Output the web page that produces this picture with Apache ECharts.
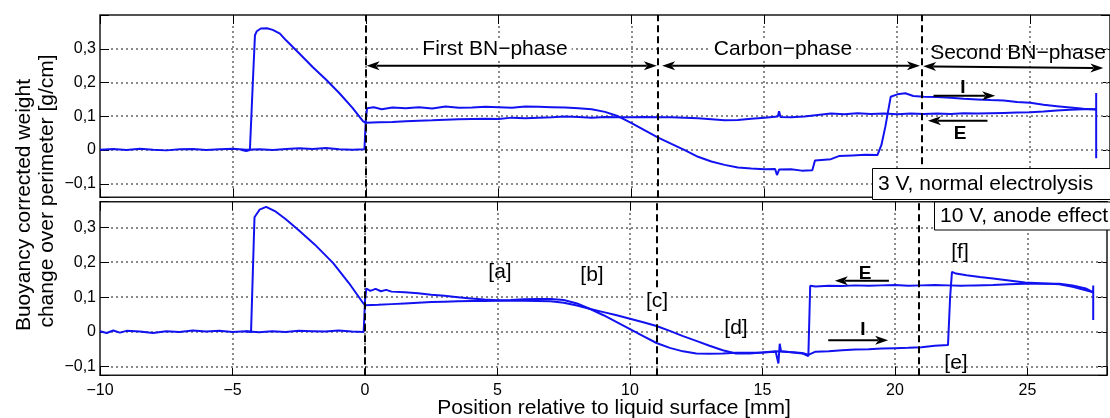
<!DOCTYPE html>
<html><head><meta charset="utf-8">
<script src="https://cdn.jsdelivr.net/npm/echarts@6/dist/echarts.min.js"></script>
<style>html,body{margin:0;padding:0;background:#fff}#c{width:1110px;height:418px}</style>
</head><body><div id="c"></div>
<script>
// ---------- data (x = position [mm], y = weight change [g/cm]) ----------
const xRange = [-10, 28];
const topYRange = [-0.14, 0.4];
const botYRange = [-0.125, 0.375];
const xGridTicks = [-5, 0, 5, 10, 15, 20, 25];
const yGridTicks = [-0.1, 0, 0.1, 0.2, 0.3];
const phaseBoundaries = [0, 11, 20.9];

// 3 V, normal electrolysis: immersion (I) path
const topImmersion = [
[-10,0.001],[-9.5,0.003],[-9,0.000],[-8.5,0.004],[-8,0.001],[-7.5,-0.001],[-7,0.002],[-6.5,0.003],[-6,0.000],[-5.5,0.002],[-5,0.004],[-4.5,0.001],[-4,0.002],[-3.5,0.000],[-3,0.003],[-2.5,0.005],[-2,0.003],[-1.5,0.006],[-1,0.002],[-0.5,0.001],[-0.05,0.002],
[0,0.090],[0.05,0.124],[0.3,0.127],[0.6,0.121],[1,0.126],[1.5,0.124],[2,0.127],[2.5,0.123],[3,0.129],[3.5,0.125],[4,0.126],[4.5,0.128],[5,0.127],[5.5,0.125],[6,0.129],[6.5,0.128],[7,0.127],[7.5,0.126],[8,0.124],[8.5,0.121],[9,0.113],[9.5,0.100],[10,0.080],[10.5,0.058],[11,0.037],[11.5,0.018],[12,0.000],[12.5,-0.020],[13,-0.034],[13.5,-0.044],[14,-0.052],[14.5,-0.055],[15,-0.057],[15.4,-0.056],[15.47,-0.074],[15.55,-0.058],[16,-0.057],[16.4,-0.061],[16.8,-0.060],[16.9,-0.031],[17.5,-0.027],[17.8,-0.018],[18.3,-0.016],[18.8,-0.014],[19.25,-0.015],[19.4,0.015],[19.55,0.070],[19.75,0.158],[20,0.165],[20.3,0.168],[20.6,0.160],[21,0.158],[21.5,0.157],[22,0.155],[22.5,0.152],[23,0.150],[23.5,0.148],[24,0.147],[24.5,0.142],[25,0.140],[25.5,0.134],[26,0.130],[26.5,0.126],[27,0.122],[27.48,0.120]
];
// 3 V, normal electrolysis: extraction (E) path
const topExtraction = [
[27.48,0.169],[27.48,-0.024],[27.48,0.121],[27,0.121],[26.5,0.119],[26,0.117],[25.5,0.114],[25,0.112],[24.5,0.111],[24,0.110],[23.5,0.109],[23,0.108],[22.5,0.109],[22,0.107],[21.5,0.108],[21,0.107],[20.5,0.108],[20,0.106],[19.5,0.108],[19,0.107],[18.5,0.109],[18,0.106],[17.5,0.108],[17,0.104],[16.5,0.099],[16,0.097],[15.6,0.098],[15.55,0.115],[15.5,0.099],[15,0.096],[14.5,0.093],[14,0.089],[13.5,0.088],[13,0.091],[12.5,0.094],[12,0.096],[11.5,0.097],[11,0.097],[10.5,0.098],[10,0.097],[9.5,0.097],[9,0.098],[8.5,0.096],[8,0.098],[7.5,0.099],[7,0.097],[6.5,0.096],[6,0.094],[5.5,0.096],[5,0.092],[4.5,0.093],[4,0.092],[3.5,0.091],[3,0.090],[2.5,0.088],[2,0.087],[1.5,0.085],[1,0.083],[0.5,0.082],[0,0.081],
[-0.1,0.085],[-0.5,0.125],[-1,0.169],[-1.5,0.209],[-2,0.246],[-2.5,0.286],[-3,0.325],[-3.23,0.345],[-3.5,0.356],[-3.72,0.361],[-3.95,0.360],[-4.1,0.352],[-4.17,0.340],[-4.25,0.200],[-4.36,0.000],[-4.5,-0.003],[-4.7,0.001]
];
// 10 V, anode effect: immersion (I) path
const botImmersion = [
[-10,0.002],[-9.75,-0.003],[-9.5,0.004],[-9.25,-0.002],[-9,0.003],[-8.5,0.001],[-8,-0.003],[-7.5,0.002],[-7,0.000],[-6.5,0.004],[-6,0.001],[-5.5,0.003],[-5,0.000],[-4.5,0.002],[-4,-0.001],[-3.5,0.002],[-3,0.000],[-2.5,0.003],[-2,0.002],[-1.5,0.001],[-1,0.004],[-0.5,0.001],[-0.05,0.000],
[0,0.090],[0.05,0.125],[0.2,0.118],[0.4,0.124],[0.6,0.117],[0.8,0.121],[1,0.116],[1.5,0.114],[2,0.111],[2.5,0.107],[3,0.104],[3.5,0.100],[4,0.096],[4.5,0.093],[5,0.091],[5.5,0.092],[6,0.094],[6.5,0.095],[7,0.095],[7.5,0.092],[8,0.082],[8.5,0.066],[9,0.048],[9.5,0.028],[10,0.008],[10.5,-0.012],[11,-0.032],[11.5,-0.046],[12,-0.056],[12.5,-0.062],[13,-0.063],[13.5,-0.062],[14,-0.060],[14.5,-0.060],[15,-0.059],[15.5,-0.057],[15.6,-0.091],[15.65,-0.034],[15.7,-0.056],[16,-0.058],[16.5,-0.061],[16.73,-0.066],[17,-0.057],[17.5,-0.056],[18,-0.053],[18.5,-0.051],[19,-0.050],[19.5,-0.048],[20,-0.047],[20.5,-0.046],[21,-0.044],[21.5,-0.040],[22,-0.038],[22.08,0.100],[22.15,0.173],[22.3,0.168],[22.7,0.163],[23.2,0.158],[23.7,0.154],[24.3,0.148],[24.9,0.142],[25.5,0.140],[26.2,0.137],[26.7,0.130],[27.2,0.120],[27.48,0.114]
];
// 10 V, anode effect: extraction (E) path
const botExtraction = [
[27.48,0.134],[27.48,0.034],[27.48,0.114],[27.2,0.125],[26.7,0.134],[26.2,0.139],[25.5,0.139],[24.9,0.139],[24.3,0.137],[23.7,0.135],[23,0.134],[22.5,0.133],[22,0.134],[21.5,0.135],[21,0.134],[20.5,0.133],[20,0.135],[19.5,0.134],[19,0.133],[18.5,0.134],[18,0.132],[17.5,0.133],[17,0.131],[16.8,0.133],[16.73,-0.070],[16.5,-0.062],[16,-0.058],[15.5,-0.056],[15,-0.059],[14.5,-0.062],[14,-0.062],[13.5,-0.053],[13,-0.040],[12.5,-0.026],[12,-0.012],[11.5,0.003],[11,0.017],[10.5,0.028],[10,0.038],[9.5,0.048],[9,0.057],[8.5,0.066],[8,0.076],[7.5,0.084],[7,0.088],[6.5,0.089],[6,0.090],[5.5,0.090],[5,0.090],[4.5,0.089],[4,0.089],[3.5,0.088],[3,0.087],[2.5,0.086],[2,0.084],[1.5,0.082],[1,0.080],[0.5,0.078],[0,0.077],
[-0.1,0.086],[-0.6,0.140],[-1.2,0.198],[-1.9,0.252],[-2.5,0.293],[-3,0.325],[-3.4,0.348],[-3.73,0.360],[-3.98,0.352],[-4.17,0.330],[-4.3,0.000],[-4.5,0.002]
];

// annotation arrows (data coordinates): panel index, from, to, double-headed?
const arrowSpecs = [
  {panel:0, from:[0.03,0.25], to:[10.95,0.25], both:true},
  {panel:0, from:[11.15,0.25], to:[20.85,0.25], both:true},
  {panel:0, from:[20.97,0.248], to:[27.75,0.243], both:true},
  {panel:0, from:[21.36,0.161], to:[23.68,0.161], both:false},
  {panel:0, from:[23.39,0.087], to:[21.15,0.087], both:false},
  {panel:1, from:[19.77,0.147], to:[17.73,0.147], both:false},
  {panel:1, from:[17.48,-0.024], to:[19.74,-0.024], both:false}
];

// ---------- chart ----------
const FONT = '"Liberation Sans", Arial, Helvetica, sans-serif';
const chart = echarts.init(document.getElementById('c'), null, {renderer:'canvas'});

function fmtX(v){ if (v > 27) return ''; return String(v).replace('-', '\u2212'); }
function fmtY(v, hiLimit){
  const r = Math.round(v*10);
  if (Math.abs(v*10 - r) > 1e-6 || v > hiLimit) return '';
  if (r === 0) return '0';
  return (r < 0 ? '\u2212' : '') + '0,' + Math.abs(r);
}
function xAx(gridIndex, position, labels){
  return {type:'value', gridIndex, position, min:xRange[0], max:xRange[1], interval:5,
    axisLine:{show:false, onZero:false},
    axisTick:{show:true, inside:true, length:9, lineStyle:{color:'#000', width:1}},
    axisLabel:{show:labels, formatter:fmtX, fontSize:16, color:'#000', fontFamily:FONT, margin:7},
    splitLine:{show:false}};
}
function yAx(gridIndex, position, range, labels){
  return {type:'value', gridIndex, position, min:range[0], max:range[1], splitNumber:5,
    axisLine:{show:false, onZero:false},
    axisTick:{show:true, inside:true, length:9, lineStyle:{color:'#000', width:1}},
    axisLabel:{show:labels, formatter:v=>fmtY(v, 0.35), fontSize:16, color:'#000', fontFamily:FONT, margin:4},
    splitLine:{show:false}};
}
const lineStyle = {color:'#1212f0', width:2};
const vLines = {silent:true, symbol:['none','none'], label:{show:false},
  lineStyle:{type:[7,4], color:'#000', width:2}, emphasis:{disabled:true},
  data: phaseBoundaries.map(v=>({xAxis:v}))};

const option = {
  animation:false,
  grid:[
    {left:100, top:15, width:1012, height:182.3, show:true, backgroundColor:'transparent', borderColor:'#1a1a1a', borderWidth:1.5},
    {left:100, top:201.7, width:1012, height:173.6, show:true, backgroundColor:'transparent', borderColor:'#1a1a1a', borderWidth:1.5}
  ],
  xAxis:[ xAx(0,'bottom',false), xAx(0,'top',false), xAx(1,'bottom',true), xAx(1,'top',false) ],
  yAxis:[ yAx(0,'left',topYRange,true), yAx(0,'right',topYRange,false), yAx(1,'left',botYRange,true), yAx(1,'right',botYRange,false) ],
  series:[
    {type:'line', name:'3V E', xAxisIndex:0, yAxisIndex:0, data:topExtraction, showSymbol:false, lineStyle, z:3},
    {type:'line', name:'3V I', xAxisIndex:0, yAxisIndex:0, data:topImmersion, showSymbol:false, lineStyle, z:3, markLine:vLines},
    {type:'line', name:'10V E', xAxisIndex:2, yAxisIndex:2, data:botExtraction, showSymbol:false, lineStyle, z:3},
    {type:'line', name:'10V I', xAxisIndex:2, yAxisIndex:2, data:botImmersion, showSymbol:false, lineStyle, z:3, markLine:vLines}
  ]
};
chart.setOption(option);

// ---------- annotations ----------
const g = [];
// dotted grid lines drawn as small dots, positioned through the axes' scales
[[0, topYRange],[2, botYRange]].forEach(([si, yr])=>{
  const pTL = chart.convertToPixel({seriesIndex:si}, [xRange[0], yr[1]]);
  const pBR = chart.convertToPixel({seriesIndex:si}, [xRange[1], yr[0]]);
  const dot = (x, y)=>g.push({type:'rect', z:2, silent:true, shape:{x:x-1, y:y-1, width:2, height:2}, style:{fill:'#8a8a8a'}});
  xGridTicks.forEach(v=>{
    const px = Math.round(chart.convertToPixel({seriesIndex:si}, [v, 0])[0]);
    for (let y = Math.ceil(pTL[1]) + 12; y < pBR[1] - 10; y += 5) dot(px, y);
  });
  yGridTicks.forEach(v=>{
    const py = Math.round(chart.convertToPixel({seriesIndex:si}, [0, v])[1]);
    for (let x = Math.ceil(pTL[0]) + 12; x < Math.min(pBR[0], 1110); x += 5) dot(x, py);
  });
});
function txt(x, y, text, size, extra){
  g.push(Object.assign({type:'text', x, y, z:60,
    style:Object.assign({text, fontSize:size, fontFamily:FONT, fill:'#000', align:'center', verticalAlign:'middle'}, extra||{})}));
}
function head(tip, dir){
  const L = 13, W = 4.5, N = 9.5;
  const nx = -dir[1], ny = dir[0];
  const bx = tip[0]-dir[0]*L, by = tip[1]-dir[1]*L;
  return {type:'polygon', z:55, shape:{points:[[tip[0],tip[1]],[bx+nx*W,by+ny*W],[tip[0]-dir[0]*N,tip[1]-dir[1]*N],[bx-nx*W,by-ny*W]]}, style:{fill:'#000'}};
}
arrowSpecs.forEach(a=>{
  const si = a.panel === 0 ? 0 : 2;
  const p0 = chart.convertToPixel({seriesIndex:si}, a.from);
  const p1 = chart.convertToPixel({seriesIndex:si}, a.to);
  const dx = p1[0]-p0[0], dy = p1[1]-p0[1], len = Math.hypot(dx,dy);
  const u = [dx/len, dy/len];
  const s = a.both ? [p0[0]+u[0]*10, p0[1]+u[1]*10] : p0;
  const e = [p1[0]-u[0]*10, p1[1]-u[1]*10];
  g.push({type:'line', z:55, shape:{x1:s[0], y1:s[1], x2:e[0], y2:e[1]}, style:{stroke:'#000', lineWidth:2}});
  g.push(head(p1, u));
  if (a.both) g.push(head(p0, [-u[0], -u[1]]));
});

// phase labels
txt(495, 49, 'First BN\u2212phase', 21, {backgroundColor:'#fff', padding:[0,4]});
txt(783, 49, 'Carbon\u2212phase', 21, {backgroundColor:'#fff', padding:[0,4]});
txt(1018, 53, 'Second BN\u2212phase', 21);
// I / E labels
txt(963, 88, 'I', 19, {fontWeight:'bold'});
txt(960, 134, 'E', 19, {fontWeight:'bold'});
txt(865, 274, 'E', 19, {fontWeight:'bold'});
txt(863, 330, 'I', 19, {fontWeight:'bold'});
// bracket labels
txt(500, 272, '[a]', 21);
txt(592, 275, '[b]', 21);
txt(657, 301, '[c]', 21, {backgroundColor:'#fff', padding:[1,1]});
txt(736, 328, '[d]', 21);
txt(956, 363, '[e]', 21);
txt(960, 252, '[f]', 21);
// condition boxes
g.push({type:'rect', z:70, shape:{x:872.5, y:168.5, width:260, height:31}, style:{fill:'#fff', stroke:'#000', lineWidth:1}});
txt(878, 184.5, '3 V, normal electrolysis', 21, {align:'left'});
g[g.length-1].z = 75;
g.push({type:'rect', z:70, shape:{x:934.5, y:202, width:200, height:28}, style:{fill:'#fff', stroke:'#000', lineWidth:1}});
txt(940, 216.5, '10 V, anode effect', 21, {align:'left'});
g[g.length-1].z = 75;
// axis titles
txt(614, 408.5, 'Position relative to liquid surface [mm]', 21);
g.push({type:'text', x:24.5, y:205, rotation:Math.PI/2, z:60,
  style:{text:'Buoyancy corrected weight', fontSize:21, fontFamily:FONT, fill:'#000', align:'center', verticalAlign:'middle'}});
g.push({type:'text', x:47.5, y:191, rotation:Math.PI/2, z:60,
  style:{text:'change over perimeter [g/cm]', fontSize:21, fontFamily:FONT, fill:'#000', align:'center', verticalAlign:'middle'}});

chart.setOption({graphic:g});
</script>
</body></html>
